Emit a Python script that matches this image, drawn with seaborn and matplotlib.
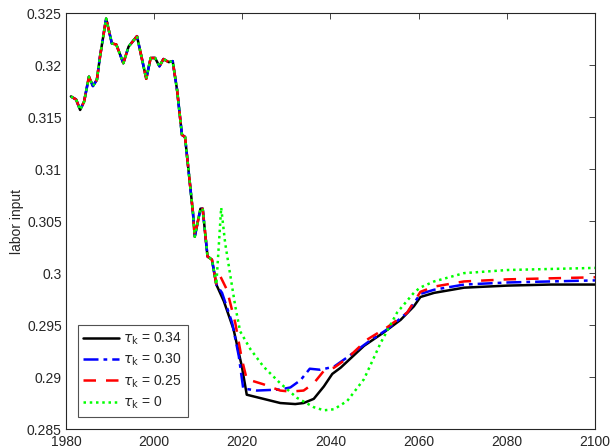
import numpy as np
import pandas as pd
import matplotlib
matplotlib.use("Agg")
import matplotlib.pyplot as plt
import seaborn as sns

# ---- data ----
hist_years = [1981.1, 1982.3, 1983.2, 1984.1, 1985.2, 1986.1, 1987.0, 1987.7, 1989.1,
              1990.4, 1991.4, 1993.0, 1994.2, 1996.1, 1998.2, 1999.2, 2000.2, 2001.2,
              2002.1, 2003.3, 2004.2, 2005.2, 2006.3, 2007.0, 2008.8, 2009.2, 2010.5,
              2011.0, 2012.1, 2013.1, 2014.1]
hist_vals = [0.3170, 0.3167, 0.3157, 0.3165, 0.3189, 0.3180, 0.3186, 0.3208, 0.3245,
             0.3221, 0.3220, 0.3202, 0.3218, 0.3228, 0.3187, 0.3207, 0.3207, 0.3199,
             0.3206, 0.3203, 0.3204, 0.3176, 0.3133, 0.3131, 0.3058, 0.3035, 0.3062,
             0.3062, 0.3016, 0.3013, 0.2989]

years_034 = [2015.8, 2018.0, 2019.9, 2021.0, 2024.8, 2028.6, 2032.0, 2033.9, 2036.2,
             2038.5, 2040.4, 2042.3, 2047.6, 2052.1, 2055.9, 2058.9, 2060.4, 2063.5,
             2070.3, 2080.2, 2090.0, 2100.0]
vals_034 = [0.2973, 0.2946, 0.2910, 0.2883, 0.2879, 0.2875, 0.2874, 0.2875, 0.2879,
            0.2891, 0.2903, 0.2909, 0.2930, 0.2943, 0.2955, 0.2968, 0.2977, 0.2981,
            0.2986, 0.2988, 0.2989, 0.2989]

years_030 = [2015.4, 2017.7, 2019.2, 2020.2, 2023.3, 2028.6, 2030.9, 2033.2, 2035.3,
             2037.7, 2040.8, 2043.8, 2048.3, 2052.9, 2057.4, 2060.4, 2063.5, 2070.3,
             2080.2, 2090.0, 2100.0]
vals_030 = [0.2981, 0.2952, 0.2920, 0.2889, 0.2887, 0.2888, 0.2890, 0.2897, 0.2908,
            0.2907, 0.2910, 0.2919, 0.2933, 0.2946, 0.2962, 0.2980, 0.2984, 0.2989,
            0.2991, 0.2992, 0.2993]

years_025 = [2015.0, 2016.5, 2018.4, 2019.9, 2021.0, 2024.8, 2028.6, 2030.9, 2033.9,
             2036.2, 2038.5, 2040.8, 2043.8, 2048.3, 2052.9, 2057.4, 2060.4, 2063.5,
             2070.3, 2080.2, 2090.0, 2100.0]
vals_025 = [0.2997, 0.2984, 0.2952, 0.2917, 0.2898, 0.2893, 0.2887, 0.2886, 0.2887,
            0.2894, 0.2906, 0.2909, 0.2918, 0.2936, 0.2948, 0.2962, 0.2982, 0.2987,
            0.2992, 0.2994, 0.2995, 0.2996]

years_0 = [2015.2, 2016.1, 2017.3, 2018.4, 2019.5, 2021.8, 2024.8, 2028.6, 2032.4,
           2036.2, 2038.5, 2040.8, 2043.8, 2047.6, 2051.4, 2055.1, 2058.9, 2060.3,
           2063.5, 2070.3, 2080.2, 2090.0, 2100.0]
vals_0 = [0.3063, 0.3029, 0.2997, 0.2968, 0.2944, 0.2927, 0.2910, 0.2894, 0.2880,
          0.2871, 0.2868, 0.2869, 0.2877, 0.2898, 0.2933, 0.2962, 0.2981, 0.2986,
          0.2992, 0.3000, 0.3003, 0.3004, 0.3005]

labels = [r"$\tau_{\mathrm{k}}$ = 0.34", r"$\tau_{\mathrm{k}}$ = 0.30",
          r"$\tau_{\mathrm{k}}$ = 0.25", r"$\tau_{\mathrm{k}}$ = 0"]
colors = ["#000000", "#0000ff", "#ff0000", "#00ff00"]
styles = ["-", (0, (6, 2, 1.5, 2)), (0, (5, 4)), (0, (1, 1.5))]

xticks = [1980, 2000, 2020, 2040, 2060, 2080, 2100]
yticks = [0.285, 0.29, 0.295, 0.3, 0.305, 0.31, 0.315, 0.32, 0.325]
ytick_labels = ["0.285", "0.29", "0.295", "0.3", "0.305", "0.31", "0.315", "0.32", "0.325"]

# ---- plot ----
sns.set_style("white")
plt.rcParams["font.family"] = ["Liberation Sans", "DejaVu Sans"]
plt.rcParams["mathtext.fontset"] = "dejavusans"

fig = plt.figure(figsize=(6.13, 4.48), dpi=100)
ax = fig.add_axes([0.1077, 0.0424, 0.8629, 0.9279])

proj = [(years_034, vals_034), (years_030, vals_030), (years_025, vals_025), (years_0, vals_0)]
for (yrs, vals), lab, c, ls in zip(proj, labels, colors, styles):
    df = pd.DataFrame({"year": hist_years + yrs, "value": hist_vals + vals})
    sns.lineplot(data=df, x="year", y="value", ax=ax, color=c, linestyle=ls,
                 linewidth=1.8, label=lab, sort=False, estimator=None)

ax.set_xlim(1980, 2100)
ax.set_ylim(0.285, 0.325)
ax.set_xticks(xticks)
ax.set_yticks(yticks)
ax.set_yticklabels(ytick_labels)
ax.set_xlabel("")
ax.set_ylabel("labor input", fontsize=10, labelpad=2)
ax.tick_params(direction="in", length=4, width=0.6, labelsize=10, colors="#262626",
               top=True, right=True, labelcolor="#262626", pad=3)
ax.tick_params(axis="x", pad=4.5)
for s in ax.spines.values():
    s.set_visible(True)
    s.set_color("#262626")
    s.set_linewidth(0.8)

leg = ax.legend(loc="lower left", bbox_to_anchor=(0.022, 0.03), fontsize=10,
                frameon=True, fancybox=False, edgecolor="#262626", handlelength=2.6,
                borderpad=0.4, labelspacing=0.35, handletextpad=0.3, borderaxespad=0)
leg.get_frame().set_linewidth(0.8)

fig.savefig("out.png", dpi=100)
